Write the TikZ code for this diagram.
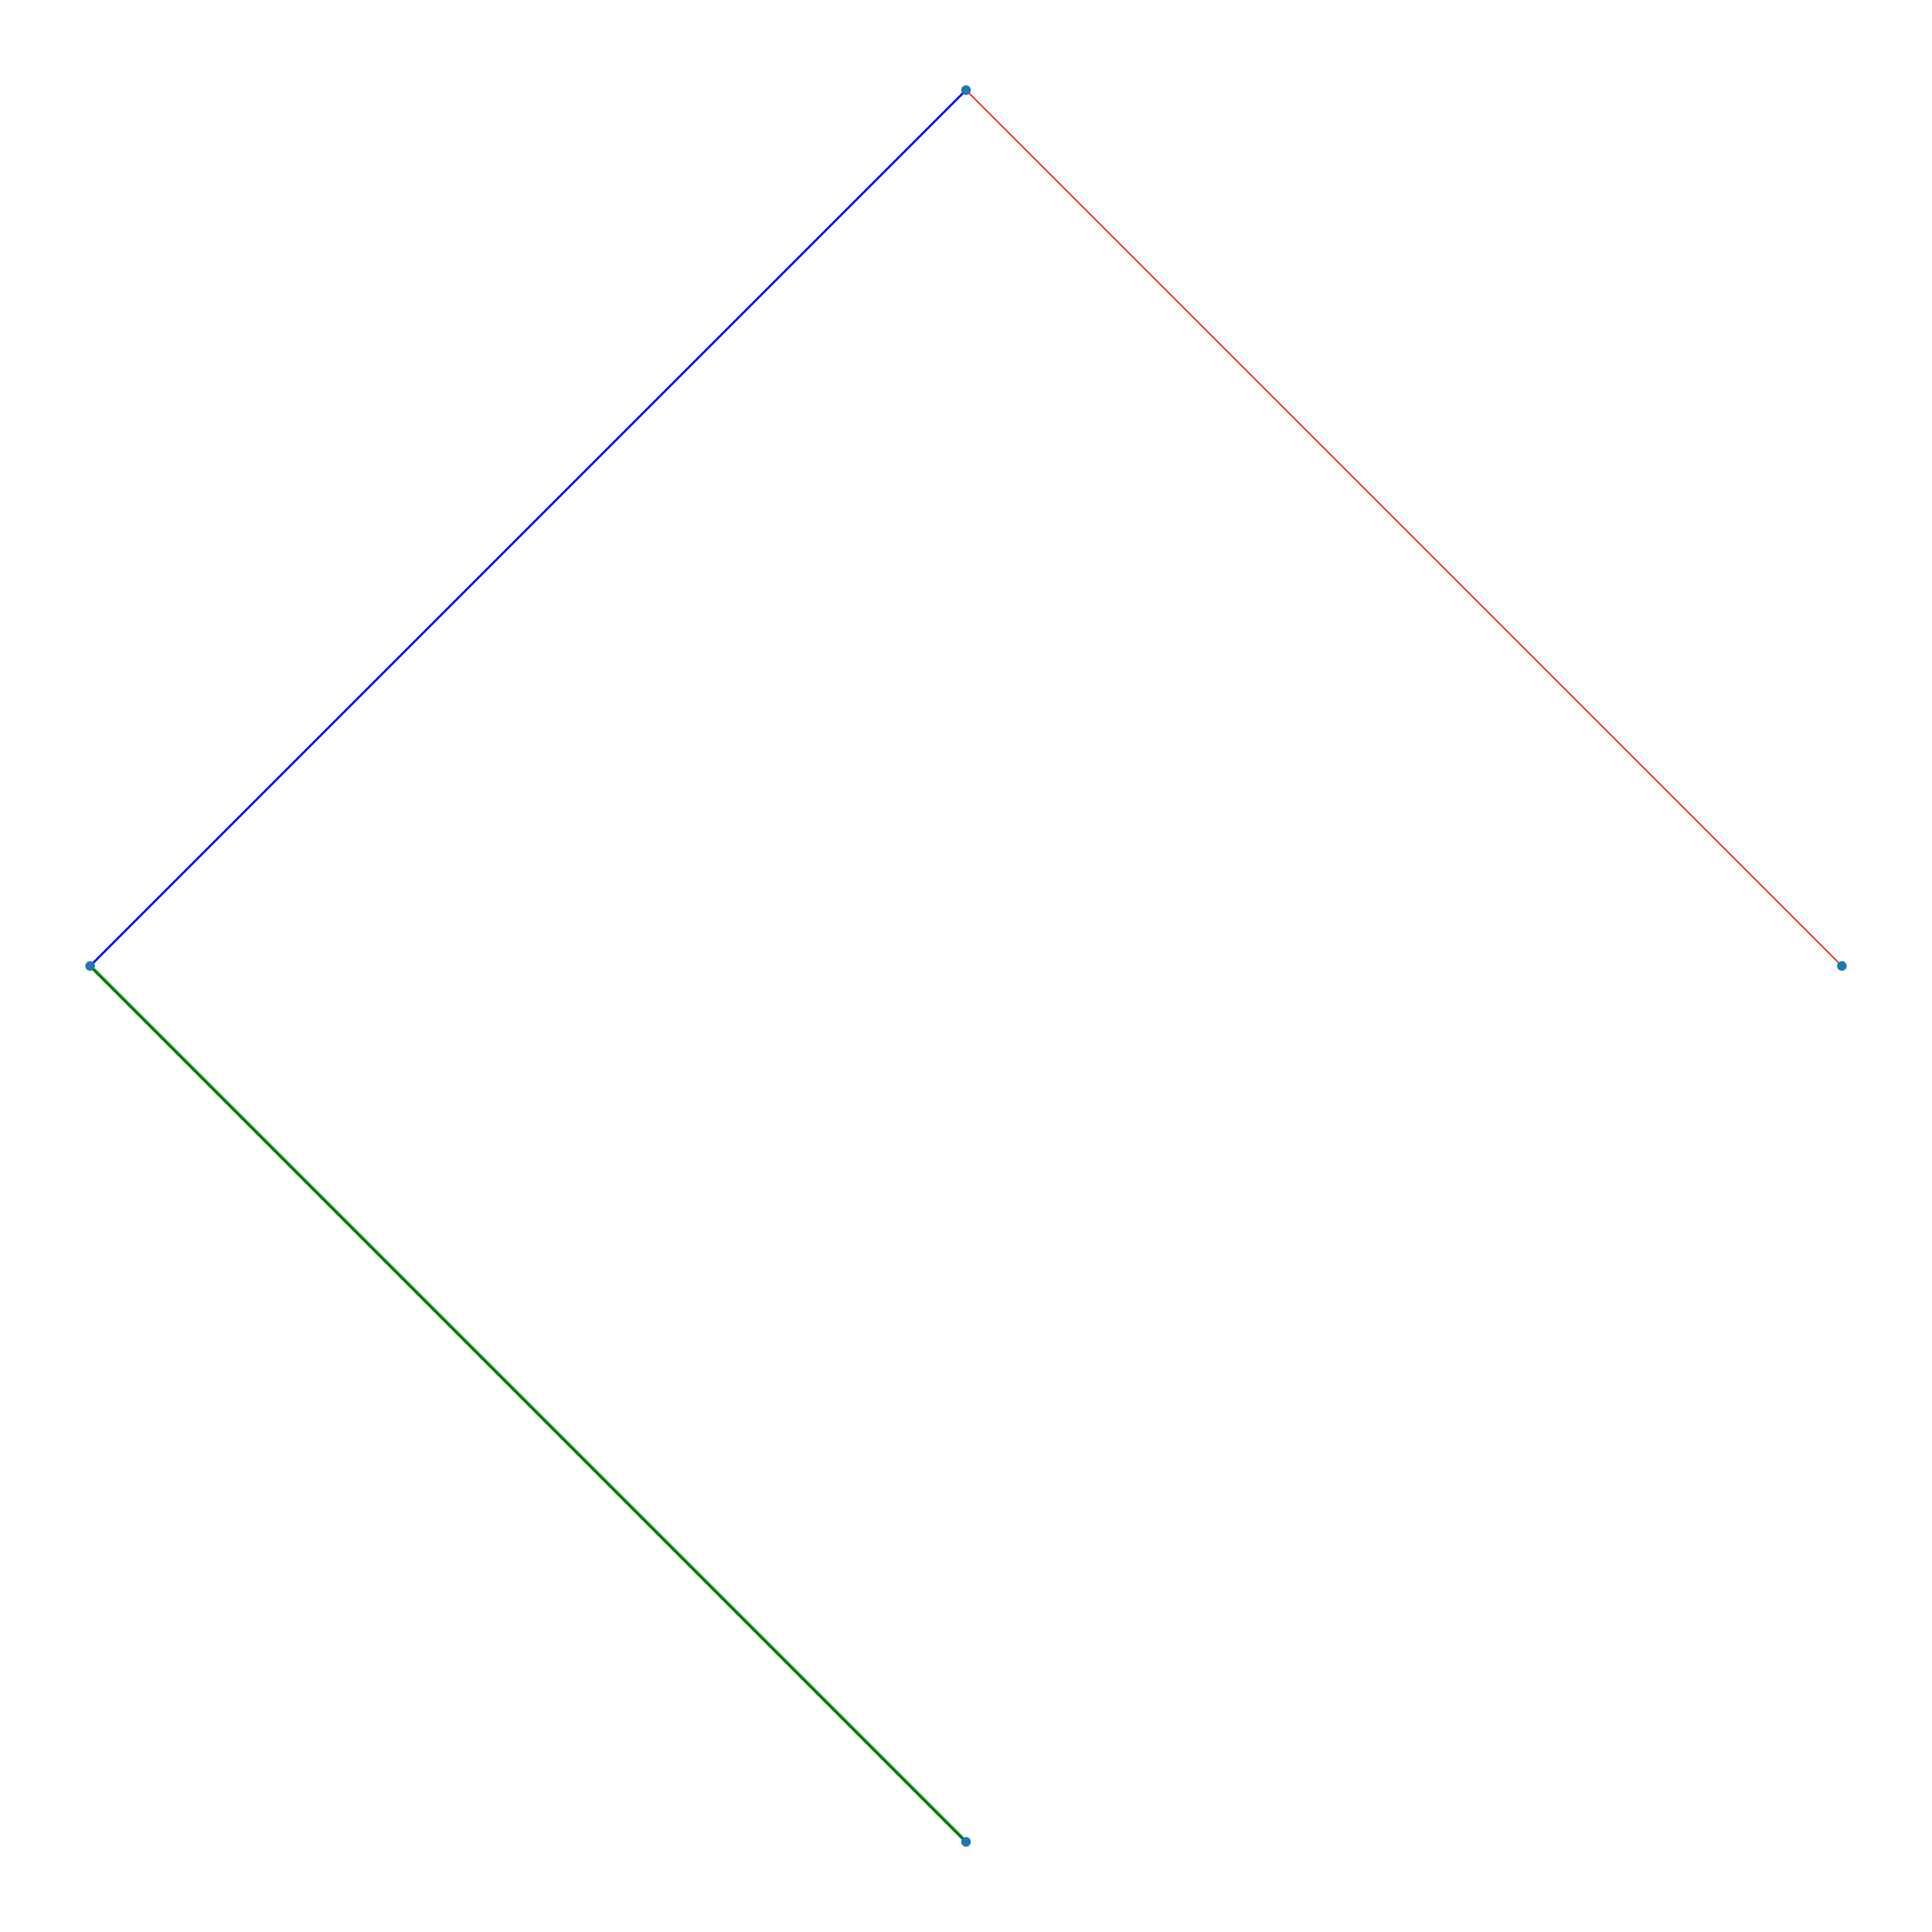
\documentclass[tikz,border=0pt]{standalone}
\definecolor{dotblue}{HTML}{1F77B4}
\definecolor{lgreen}{HTML}{008000}
\begin{document}
\begin{tikzpicture}[
  vert/.style={circle,fill=dotblue,inner sep=0pt,minimum size=0.18cm},
  blueedge/.style={draw=blue,line width=1.1pt},
  rededge/.style={draw=red,line width=0.6pt},
  greenedge/.style={draw=lgreen,line width=1.6pt}
]
\useasboundingbox (0,0) rectangle (36,36);
\coordinate (ct) at (18,34.32);
\coordinate (cl) at (1.68,18);
\coordinate (cr) at (34.32,18);
\coordinate (cb) at (18,1.68);
\draw[blueedge] (ct) -- (cl);
\draw[rededge] (ct) -- (cr);
\draw[greenedge] (cl) -- (cb);
\node[vert] (t) at (ct) {};
\node[vert] (l) at (cl) {};
\node[vert] (r) at (cr) {};
\node[vert] (b) at (cb) {};
\end{tikzpicture}
\end{document}
